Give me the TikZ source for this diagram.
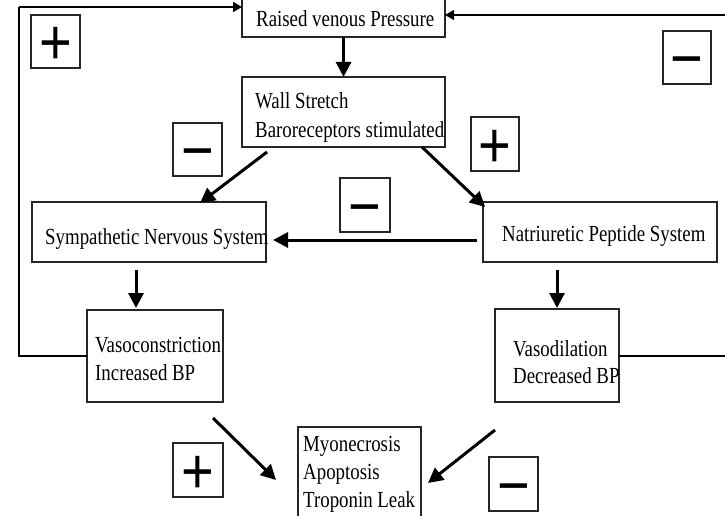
\documentclass[tikz,border=0pt]{standalone}
\usepackage{fontspec}
\setmainfont{Liberation Serif}[FakeStretch=0.82]
\newfontfamily\signfont{Liberation Sans}
\usetikzlibrary{arrows.meta,calc}
\newcommand\sgnmark[1]{\raisebox{-0.414em}[0pt][0pt]{\scalebox{1}[1.15]{#1}}}
\tikzset{
  box/.style={draw=black!85, line width=1.2pt, inner sep=0pt, outer sep=0pt, anchor=north west},
  txt/.style={anchor=base west, inner sep=0pt, font=\fontsize{23}{23}\selectfont},
  signbox/.style={draw=black!85, line width=1.2pt, inner sep=0pt, outer sep=0pt, anchor=north west,
    minimum width=49pt, minimum height=53pt, font=\signfont\fontsize{56}{56}\selectfont},
  bigarrow/.style={line width=3pt, -{Triangle[length=15pt,width=15pt]}},
  fb/.style={line width=1.1pt},
  fbarrow/.style={-{Triangle[length=9pt,width=10pt]}},
}
\begin{document}
\begin{tikzpicture}[x=1pt,y=-1pt]
\useasboundingbox (0,0) rectangle (725,516);
\clip (0,0) rectangle (725,516);
\fill[white] (0,0) rectangle (725,516);

% boxes
\node[box, minimum width=203pt, minimum height=47pt] (raised) at (242,-10) {};
\node[box, minimum width=203pt, minimum height=70pt] (wall) at (242,77) {};
\node[box, minimum width=234pt, minimum height=60pt] (sym) at (32,202) {};
\node[box, minimum width=234pt, minimum height=60pt] (nat) at (483,202) {};
\node[box, minimum width=136pt, minimum height=92pt] (vc) at (87,310) {};
\node[box, minimum width=124pt, minimum height=93pt] (vd) at (495,309) {};
\node[box, minimum width=123pt, minimum height=103pt] (myo) at (298,427) {};

% texts
\node[txt] (traised) at (256,27) {Raised venous Pressure};
\node[txt] (twall1) at (255,109) {Wall Stretch};
\node[txt] (twall2) at (255,137) {Baroreceptors stimulated};
\node[txt] (tsym) at (45,244) {Sympathetic Nervous System};
\node[txt] (tnat) at (502,241) {Natriuretic Peptide System};
\node[txt] (tvc1) at (95,352) {Vasoconstriction};
\node[txt] (tvc2) at (95,380) {Increased BP};
\node[txt] (tvd1) at (513,356) {Vasodilation};
\node[txt] (tvd2) at (513,383) {Decreased BP};
\node[txt] (tmyo1) at (303,451) {Myonecrosis};
\node[txt] (tmyo2) at (303,479) {Apoptosis};
\node[txt] (tmyo3) at (303,507) {Troponin Leak};

% sign boxes
\node[signbox] (p1) at (31,15) {\sgnmark{+}};
\node[signbox] (m1) at (173,123) {\sgnmark{−}};
\node[signbox, minimum width=48pt] (m2) at (663,31) {\sgnmark{−}};
\node[signbox, minimum width=48pt, minimum height=54pt] (p2) at (471,117) {\sgnmark{+}};
\node[signbox, minimum width=50pt, minimum height=54pt] (m3) at (340,178) {\sgnmark{−}};
\node[signbox, minimum width=50pt, minimum height=54pt] (p3) at (173,443) {\sgnmark{+}};
\node[signbox, minimum width=49pt, minimum height=54pt] (m4) at (489,457) {\sgnmark{−}};

% main arrows
\draw[bigarrow] (raised.south) -- (wall.north);
\draw[bigarrow] ($(wall.south west)+(25,5)$) -- ($(sym.north west)+(168,1)$);
\draw[bigarrow] ($(wall.south west)+(180,0)$) -- ($(nat.north west)+(2,5)$);
\draw[bigarrow] ($(nat.west)+(-6,8)$) -- ($(sym.east)+(7,8)$);
\draw[bigarrow] ($(sym.south west)+(104,8)$) -- ($(vc.north west)+(49,-2)$);
\draw[bigarrow] ($(nat.south west)+(74,8)$) -- ($(vd.north west)+(62,-1)$);
\draw[bigarrow] ($(vc.south east)+(-10,16)$) -- ($(myo.north west)+(-22,53)$);
\draw[bigarrow] ($(vd.south west)+(0,28)$) -- ($(myo.north east)+(7,56)$);

% feedback loops
\coordinate (lfb1) at (19,356);
\coordinate (lfb2) at (19,7);
\draw[fb] (vc.west |- lfb1) -- (lfb1) -- (lfb2);
\draw[line width=2pt, fbarrow] (lfb2) -- (raised.west |- lfb2);
\coordinate (rfb1) at (727,356);
\coordinate (rfb2) at (727,15);
\draw[fb, fbarrow] (vd.east |- rfb1) -- (rfb1) -- (rfb2) -- (raised.east |- rfb2);
\end{tikzpicture}
\end{document}
